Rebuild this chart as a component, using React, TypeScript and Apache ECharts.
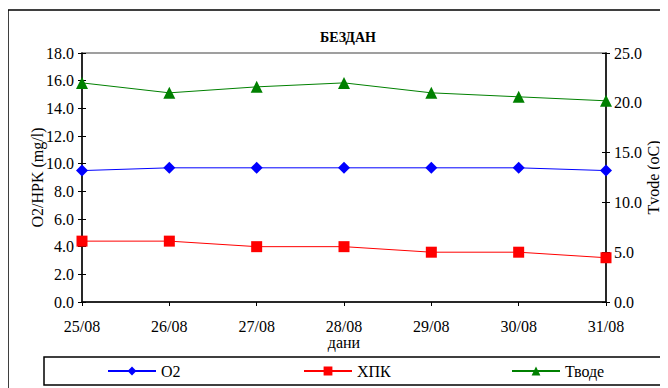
import React, { useEffect, useRef } from "react";
import * as echarts from "echarts";

const days = ["25/08", "26/08", "27/08", "28/08", "29/08", "30/08", "31/08"];
const o2 = [9.5, 9.7, 9.7, 9.7, 9.7, 9.7, 9.5];
const hpk = [4.4, 4.4, 4.0, 4.0, 3.6, 3.6, 3.2];
const tvode = [22.0, 21.0, 21.6, 22.0, 21.0, 20.6, 20.2];
const seriesNames = ["O2", "ХПК", "Тводе"];
const leftAxis = { min: 0, max: 18, interval: 2, name: "O2/HPK (mg/l)" };
const rightAxis = { min: 0, max: 25, interval: 5, name: "Tvode (oC)" };
const xName = "дани";
const title = "БЕЗДАН";

const FONT = "Liberation Serif";

export default function App() {
  const ref = useRef<HTMLDivElement>(null);
  useEffect(() => {
    if (!ref.current) return;
    const chart = echarts.init(ref.current, null, { renderer: "svg" });
    const grid = { left: 74, right: 62, top: 45, bottom: 86 };
    const axisText = { color: "#000", fontFamily: FONT, fontSize: 16 };
    const fmt = (v: number) => v.toFixed(1);
    const makeY = (a: any, pos: string, main: boolean) => ({
      type: "value",
      position: pos,
      min: a.min,
      max: a.max,
      interval: a.interval,
      name: main ? a.name : "",
      nameLocation: "middle",
      nameRotate: 90,
      nameGap: pos === "left" ? 37 : 39,
      nameMoveOverlap: false,
      nameTextStyle: { ...axisText },
      axisLine: { show: main, lineStyle: { color: "#000", width: 1.5 } },
      axisTick: { show: true, inside: !main, length: 4, lineStyle: { color: "#000", width: 1 } },
      axisLabel: { show: main, ...axisText, margin: 8, formatter: fmt },
      splitLine: { show: false },
    });
    const makeX = (main: boolean) => ({
      type: "category",
      data: days,
      boundaryGap: false,
      name: main ? xName : "",
      nameLocation: "middle",
      nameGap: 32,
      nameMoveOverlap: false,
      nameTextStyle: { ...axisText },
      axisLine: { show: main, lineStyle: { color: "#000", width: 1.5 } },
      axisTick: { show: true, inside: !main, length: 4, lineStyle: { color: "#000", width: 1 } },
      axisLabel: { show: main, ...axisText, margin: 16 },
      splitLine: { show: false },
    });
    const colors = ["#0000FF", "#FF0000", "#008000"];
    const symbols = ["diamond", "rect", "triangle"];
    const sizes = [12, 11, 12];
    const datas = [o2, hpk, tvode];
    const yIdx = [0, 0, 1];
    const legendLefts = [94, 290, 498];
    chart.setOption({
      animation: false,
      textStyle: { fontFamily: FONT },
      title: {
        text: title,
        left: 335,
        textAlign: "center",
        top: 17,
        textStyle: { fontFamily: FONT, fontSize: 14, fontWeight: "bold", color: "#000" },
      },
      grid: {
        ...grid,
        outerBoundsMode: "none",
        containLabel: false,
        show: true,
        borderColor: "#808080",
        borderWidth: 1.5,
        backgroundColor: "transparent",
      },
      xAxis: [makeX(true), makeX(false)],
      yAxis: [
        makeY(leftAxis, "left", true),
        makeY(rightAxis, "right", true),
        makeY(leftAxis, "left", false),
        makeY(rightAxis, "right", false),
      ],
      legend: seriesNames.map((n, i) => ({
        data: [n],
        left: legendLefts[i],
        top: 350,
        itemWidth: 48,
        itemHeight: 11,
        itemGap: 5,
        textStyle: { fontFamily: FONT, fontSize: 16, color: "#000" },
      })),
      graphic: [
        { type: "rect", shape: { x: 0, y: 2, width: 720, height: 420 }, style: { fill: "none", stroke: "#000", lineWidth: 1.5 }, silent: true },
        { type: "rect", shape: { x: 36, y: 349, width: 622, height: 28 }, style: { fill: "none", stroke: "#000", lineWidth: 1.5 }, silent: true },
      ],
      series: seriesNames.map((n, i) => ({
        name: n,
        type: "line",
        yAxisIndex: yIdx[i],
        data: datas[i],
        symbol: symbols[i],
        symbolSize: sizes[i],
        itemStyle: { color: colors[i] },
        lineStyle: { color: colors[i], width: 1 },
      })),
    });
    return () => chart.dispose();
  }, []);
  return <div ref={ref} style={{ width: 660, height: 380 }} />;
}
